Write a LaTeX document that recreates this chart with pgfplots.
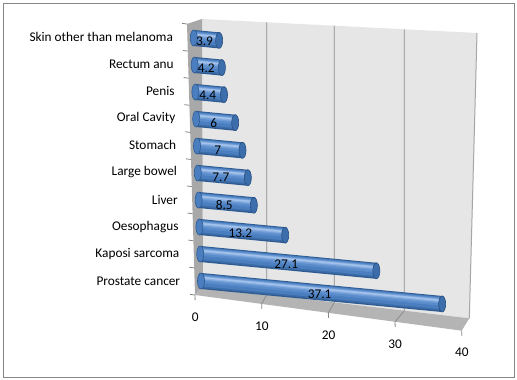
\documentclass[border=0pt]{standalone}
\usepackage{pgfplots}
\pgfplotsset{compat=1.18}
\usepackage{pgfplotstable}
\usepackage{fontspec}
\setmainfont{Carlito}
\definecolor{backwall}{HTML}{E6E6E6}
\definecolor{sidewall}{HTML}{A8A8A8}
\definecolor{floorgray}{HTML}{B4B4B4}
\definecolor{gridgray}{HTML}{8C8C8C}
\definecolor{bordergray}{HTML}{868686}
\definecolor{barDark}{HTML}{2E5B91}
\definecolor{barMid}{HTML}{3C6CA8}
\definecolor{barBody}{HTML}{4A7EBF}
\definecolor{barBody2}{HTML}{5A8CCB}
\definecolor{barHi}{HTML}{6E9BD5}
\definecolor{barHi2}{HTML}{86AEE0}
\definecolor{barHi3}{HTML}{A3C1EA}
\definecolor{capFill}{HTML}{3D6EAC}
\definecolor{capDraw}{HTML}{284F82}

% one row per category: c = position, v = value
\pgfplotstableread{
c v
0 37.1
1 27.1
2 13.2
3 8.5
4 7.7
5 7
6 6
7 4.4
8 4.2
9 3.9
}\datatable

% the same bars as segments from 0 to the value (nan = gap)
\pgfplotstableread{
x y
0 0
37.1 0
nan nan
0 1
27.1 1
nan nan
0 2
13.2 2
nan nan
0 3
8.5 3
nan nan
0 4
7.7 4
nan nan
0 5
7 5
nan nan
0 6
6 6
nan nan
0 7
4.4 7
nan nan
0 8
4.2 8
nan nan
0 9
3.9 9
}\segtable

\begin{document}
\begin{tikzpicture}
\begin{scope}[x=1pt,y=1pt]
\path[use as bounding box] (0,0) rectangle (517,380);
\fill[white] (0,0) rectangle (517,380);
\draw[bordergray, line width=0.9pt] (3,3) rectangle (514,377);
% walls
\fill[backwall] (202,361) -- (477,347) -- (469.3,61.7) -- (203,93) -- cycle;
\draw[gray!70, line width=1pt] (477,347) -- (469.3,61.7);
\fill[sidewall] (187,356) -- (202,361) -- (203,93) -- (195,85) -- cycle;
\fill[floorgray] (195,85) -- (461.7,49.3) -- (469.3,61.7) -- (203,93) -- cycle;
% grid lines on back wall and floor
\draw[gridgray, line width=0.8pt] (266.7,357.7) -- (266.7,85.5) -- (261.7,76.1);
\draw[gridgray, line width=0.8pt] (334.3,354.3) -- (334.3,77.6) -- (328.4,67.2);
\draw[gridgray, line width=0.8pt] (404.3,350.7) -- (404.3,69.3) -- (395.0,58.2);
\end{scope}

% frame axis: ticks and labels
\begin{axis}[
  at={(194.6pt,98.55pt)}, anchor=origin,
  x={(6.668pt,-0.8925pt)}, y={(-0.8pt,27.1pt)},
  xmin=0, xmax=40, ymin=-0.5, ymax=9.5,
  axis x line*=bottom, axis y line*=left,
  axis line style={draw=none},
  xtick={0,10,20,30,40},
  ytick={0,1,2,3,4,5,6,7,8,9},
  yticklabels={Prostate cancer, Kaposi sarcoma, Oesophagus, Liver, Large bowel, Stomach, Oral Cavity, Penis, Rectum anu, Skin other than melanoma},
  minor ytick={-0.5,0.5,1.5,2.5,3.5,4.5,5.5,6.5,7.5,8.5,9.5},
  tick align=outside,
  major tick length=5pt, minor tick length=5pt,
  every major y tick/.append style={draw=none},
  every minor y tick/.append style={draw=bordergray, line width=0.8pt},
  every major x tick/.append style={draw=bordergray, line width=0.8pt},
  tick label style={font=\fontsize{13.3}{15}\selectfont},
  /pgf/number format/assume math mode=true,
  xticklabel style={anchor=center, yshift=-17pt},
  yticklabel style={anchor=east, xshift=-6pt},
]
\end{axis}

% bar axis
\begin{axis}[
  at={(201pt,99pt)}, anchor=origin,
  x={(6.5pt,-0.62pt)}, y={(-0.8pt,27pt)},
  xmin=0, xmax=40, ymin=-0.5, ymax=9.5,
  hide axis, clip=false,
  unbounded coords=jump,
  /pgf/number format/assume math mode=true,
]
\addplot[only marks, mark=*, mark size=8pt,
  mark options={xscale=0.44, fill=barBody, draw=barDark, line width=0.6pt}]
  table[x expr=0, y=c] {\datatable};
\addplot[mark=none, line width=16pt, draw=barDark] table[x=x, y=y] {\segtable};
\addplot[mark=none, line width=14pt, draw=barMid] table[x=x, y expr=\thisrow{y}+0.01] {\segtable};
\addplot[mark=none, line width=12pt, draw=barBody] table[x=x, y expr=\thisrow{y}+0.03] {\segtable};
\addplot[mark=none, line width=8pt, draw=barBody2] table[x=x, y expr=\thisrow{y}+0.08] {\segtable};
\addplot[mark=none, line width=5pt, draw=barHi] table[x=x, y expr=\thisrow{y}+0.11] {\segtable};
\addplot[mark=none, line width=3pt, draw=barHi2] table[x=x, y expr=\thisrow{y}+0.12] {\segtable};
\addplot[mark=none, line width=1.5pt, draw=barHi3] table[x=x, y expr=\thisrow{y}+0.13] {\segtable};
\addplot[only marks, mark=*, mark size=8pt,
  mark options={xscale=0.44, fill=capFill, draw=capDraw, line width=0.6pt}]
  table[x=v, y=c] {\datatable};
\addplot[draw=none, mark=none, nodes near coords, point meta=explicit,
  every node near coord/.style={anchor=center, xshift=-2pt, yshift=-2pt,
    font=\fontsize{13.3}{15}\selectfont, text=black}]
  table[x expr=\thisrow{v}/2, y=c, meta=v] {\datatable};
\end{axis}
\end{tikzpicture}
\end{document}
